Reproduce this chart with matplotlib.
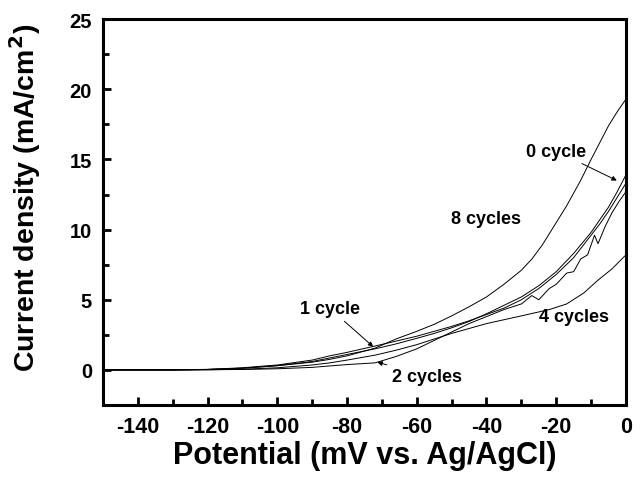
import matplotlib.pyplot as plt
from matplotlib.ticker import MultipleLocator

plt.rcParams['font.family'] = ['Liberation Sans', 'DejaVu Sans']
plt.rcParams['font.weight'] = 'bold'
plt.rcParams['axes.unicode_minus'] = False
plt.rcParams['mathtext.default'] = 'bf'

# potential (mV vs Ag/AgCl) and current density (mA/cm2) for each sample
x_common = [-150, -130, -120, -110, -100, -90, -85, -80, -72, -66, -60, -55, -50, -45,
            -40, -35, -30, -25, -20, -15, -10, -7.5, -5, -2.5, 0]
j_0cycle = [0, 0.0, 0.03, 0.12, 0.3, 0.6, 0.85, 1.1, 1.5, 1.85, 2.25, 2.6, 3.0, 3.45,
            4.0, 4.6, 5.2, 6.0, 7.0, 8.3, 9.8, 10.7, 11.6, 12.7, 13.9]
j_1cycle = [0, 0.0, 0.04, 0.15, 0.35, 0.7, 1.0, 1.25, 1.7, 2.05, 2.4, 2.75, 3.1, 3.5,
            3.95, 4.4, 5.0, 5.8, 6.8, 8.0, 9.6, 10.4, 11.3, 12.3, 13.3]

x_8cycle = [-150, -130, -120, -110, -100, -90, -85, -80, -72, -66, -60, -55, -50, -45,
            -40, -35, -30, -27, -24, -20, -17, -13, -10, -7.5, -5, -2.5, 0]
j_8cycle = [0, 0.0, 0.03, 0.12, 0.3, 0.55, 0.75, 1.0, 1.55, 2.2, 2.75, 3.25, 3.85, 4.5,
            5.2, 6.1, 7.1, 7.9, 8.9, 10.5, 11.7, 13.5, 15.0, 16.2, 17.4, 18.4, 19.3]

x_2cycle = [-150, -130, -120, -110, -100, -90, -85, -80, -72, -66, -60, -55, -50, -45, -40,
            -35, -30, -27, -25, -22, -20, -17, -15, -13, -11, -9, -8, -6, -4, -2, 0]
j_2cycle = [0, 0.0, 0.01, 0.03, 0.08, 0.18, 0.28, 0.38, 0.5, 0.95, 1.5, 2.1, 2.7, 3.3, 3.8,
            4.3, 4.7, 5.3, 5.0, 5.8, 6.1, 6.9, 7.0, 7.9, 8.2, 9.6, 9.0, 10.2, 11.2, 12.0, 12.7]

x_4cycle = [-150, -130, -120, -110, -100, -90, -85, -80, -72, -66, -60, -50, -40, -30,
            -22, -17, -12, -8, -4, 0]
j_4cycle = [0, 0.0, 0.01, 0.05, 0.15, 0.35, 0.5, 0.7, 1.05, 1.4, 1.8, 2.6, 3.3, 3.85,
            4.3, 4.7, 5.5, 6.4, 7.2, 8.2]

fig, ax = plt.subplots(figsize=(6.4, 4.81), dpi=100)
fig.subplots_adjust(left=0.161, right=0.978, top=0.958, bottom=0.156)

for xs, ys in [(x_common, j_0cycle), (x_common, j_1cycle), (x_8cycle, j_8cycle),
               (x_2cycle, j_2cycle), (x_4cycle, j_4cycle)]:
    ax.plot(xs, ys, color="black", linewidth=0.7)

ax.set_xlim(-150, 0)
ax.set_ylim(-2.5, 25)
ax.xaxis.set_major_locator(MultipleLocator(20))
ax.xaxis.set_minor_locator(MultipleLocator(10))
ax.yaxis.set_major_locator(MultipleLocator(5))
ax.yaxis.set_minor_locator(MultipleLocator(2.5))
ax.tick_params(which="both", direction="in", width=2, pad=8)
ax.tick_params(axis="x", labelsize=15.5)
ax.tick_params(axis="y", labelsize=14.5)
ax.tick_params(which="major", length=6)
ax.tick_params(which="minor", length=4)
for s in ax.spines.values():
    s.set_linewidth(2.2)

ax.set_xlabel("Potential (mV vs. Ag/AgCl)", fontsize=22, fontweight="bold", labelpad=2)
ax.set_ylabel("Current density (mA/cm$^2$)", fontsize=20.5, fontweight="bold")
ax.yaxis.set_label_coords(-0.115, 0.54)

# Labels
txt = {"fontsize": 13, "fontweight": "bold", "ha": "center", "va": "center"}
arrow = {"arrowstyle": "-|>", "color": "black", "lw": 0.7, "shrinkA": 2, "shrinkB": 0,
         "mutation_scale": 7}
ax.annotate("0 cycle", xy=(-2.6, 13.5), xytext=(-20, 15.6), arrowprops=arrow, **txt)
ax.text(-40, 10.8, "8 cycles", **txt)
ax.text(-15, 3.8, "4 cycles", **txt)
ax.annotate("1 cycle", xy=(-72.5, 1.65), xytext=(-85, 4.4), arrowprops=arrow, **txt)
ax.annotate("2 cycles", xy=(-71.3, 0.55), xytext=(-57, -0.45), arrowprops=arrow, **txt)

plt.savefig("out.png", dpi=100)
